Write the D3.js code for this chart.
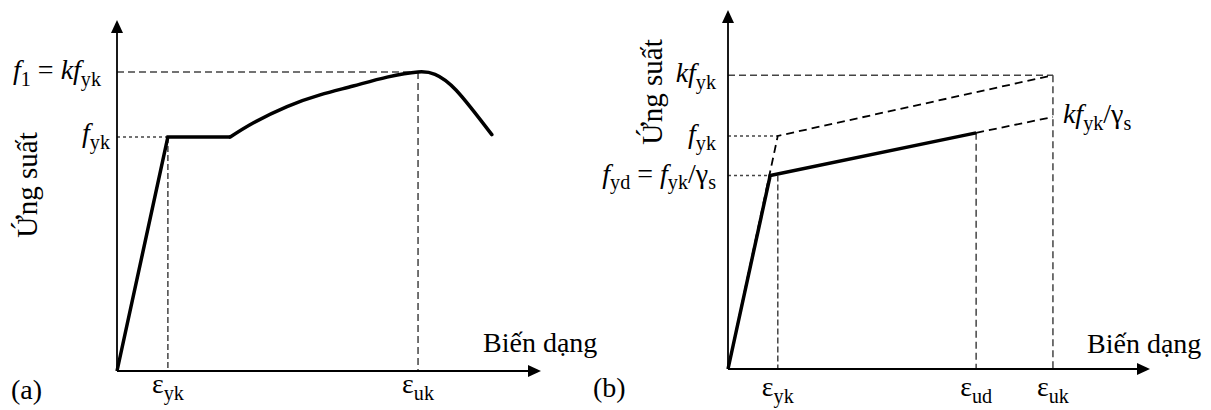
<!DOCTYPE html>
<html>
<head>
<meta charset="utf-8">
<script src="https://cdn.jsdelivr.net/npm/d3@7"></script>
<style>
  body { margin: 0; background: #fff; }
  text { font-family: "Liberation Serif", "DejaVu Serif", serif; fill: #000; }
</style>
</head>
<body>
<div id="fig"></div>
<script>
// ---- panel (a) : thép cán nóng ----
var strainA = [0, 1.2, 2.67];                      // đoạn đàn hồi + chảy dẻo
var stressA = [0, 1.0, 1.0];
var strainA2 = [2.67, 3.21, 4.01, 4.79, 5.57, 6.37, 7.1, 7.5, 8.0, 8.84]; // đoạn tái bền
var stressA2 = [1.0, 1.06, 1.13, 1.18, 1.218, 1.256, 1.278, 1.268, 1.2, 1.01];
var xTicksA = [1.2, 7.1];
var xLabelsA = [[["ε","n"],["yk","s"]], [["ε","n"],["uk","s"]]];
var yTicksA = [1.278, 1.0];
var yLabelsA = [[["f","i"],["1","s"],[" = ","n"],["kf","i"],["yk","s"]], [["f","i"],["yk","s"]]];

// ---- panel (b) : mô hình tính toán ----
var strainB = [0, 1.18, 7.7];          // đường đặc trưng (nét đứt)
var stressB = [0, 1.0, 1.26];
var strainB2 = [0, 1.0, 5.88];         // đường tính toán (nét liền)
var stressB2 = [0, 0.83, 1.013];
var strainB3 = [5.88, 7.7];            // phần kéo dài tới kfyk/γs
var stressB3 = [1.013, 1.081];
var xTicksB = [1.18, 5.88, 7.7];
var xLabelsB = [[["ε","n"],["yk","s"]], [["ε","n"],["ud","s"]], [["ε","n"],["uk","s"]]];
var yTicksB = [1.26, 1.0, 0.83];
var yLabelsB = [[["kf","i"],["yk","s"]], [["f","i"],["yk","s"]],
                [["f","i"],["yd","s"],[" = ","n"],["f","i"],["yk","s"],["/γ","n"],["s","s"]]];
var sideLabelB = [["kf","i"],["yk","s"],["/γ","n"],["s","s"]];

var svg = d3.select("#fig").append("svg").attr("width",1211).attr("height",410);

function richText(g, parts, x, y, anchor, size) {
  var t = g.append("text").attr("x",x).attr("y",y).attr("text-anchor",anchor)
    .style("font-size", size+"px");
  var shift = 0;
  parts.forEach(function(p) {
    var sub = p[1] == "s";
    var target = sub ? size*0.24 : 0;
    t.append("tspan").text(p[0]).attr("dy", target - shift)
      .style("font-style", p[1] == "i" ? "italic" : "normal")
      .style("font-size", (sub ? size*0.72 : size) + "px");
    shift = target;
  });
  return t;
}

function axes(g, x, y) {
  var x0 = x(0), y0 = y(0), xEnd = x.range()[1], yTop = y.range()[1];
  g.append("line").attr("x1",x0).attr("y1",y0).attr("x2",x0).attr("y2",yTop+10)
    .attr("stroke","#000").attr("stroke-width",1.8);
  g.append("line").attr("x1",x0).attr("y1",y0).attr("x2",xEnd-10).attr("y2",y0)
    .attr("stroke","#000").attr("stroke-width",1.8);
  g.append("path").attr("d","M"+x0+","+yTop+" L"+(x0-6)+","+(yTop+13)+" L"+(x0+6)+","+(yTop+13)+"Z");
  g.append("path").attr("d","M"+xEnd+","+y0+" L"+(xEnd-13)+","+(y0-6)+" L"+(xEnd-13)+","+(y0+6)+"Z");
}

function guide(g, x1, y1, x2, y2, dash) {
  g.append("line").attr("x1",x1).attr("y1",y1).attr("x2",x2).attr("y2",y2)
    .attr("stroke","#444").attr("stroke-width",1.5).attr("stroke-dasharray",dash);
}

function zip(a, b) { return a.map(function(v,i){ return [v, b[i]]; }); }

var FS = 28;

// ================= (a) =================
var xA = d3.scaleLinear().domain([0,10]).range([117,541]);
var yA = d3.scaleLinear().domain([0,1.5]).range([371,20]);
var gA = svg.append("g");

guide(gA, xA(0), yA(yTicksA[0]), xA(xTicksA[1]), yA(yTicksA[0]), "7,4");
guide(gA, xA(xTicksA[1]), yA(yTicksA[0]), xA(xTicksA[1]), yA(0), "7,4");
guide(gA, xA(0), yA(stressA[1]), xA(strainA[1]), yA(stressA[1]), "3,3");
guide(gA, xA(strainA[1]), yA(stressA[1]), xA(strainA[1]), yA(0), "6,3");

axes(gA, xA, yA);

var lineA = d3.line().x(function(d){return xA(d[0]);}).y(function(d){return yA(d[1]);});
gA.append("path").attr("d", lineA(zip(strainA, stressA)))
  .attr("fill","none").attr("stroke","#000").attr("stroke-width",3.5).attr("stroke-linejoin","miter");
gA.append("path").attr("d", lineA.curve(d3.curveNatural)(zip(strainA2, stressA2)))
  .attr("fill","none").attr("stroke","#000").attr("stroke-width",3.5).attr("stroke-linecap","round");

xTicksA.forEach(function(v,i){ richText(gA, xLabelsA[i], xA(v), yA(0)+22, "middle", FS); });
richText(gA, yLabelsA[0], xA(0)-16, yA(yTicksA[0])+7, "end", FS);
richText(gA, yLabelsA[1], xA(0)-7, yA(yTicksA[1])+5, "end", FS);

gA.append("text").attr("x",483).attr("y",352).style("font-size",FS+"px").text("Biến dạng");
gA.append("text").attr("transform","translate(37,185) rotate(-90)").attr("text-anchor","middle")
  .style("font-size",(FS+1)+"px").text("Ứng suất");
gA.append("text").attr("x",11).attr("y",399).style("font-size",FS+"px").text("(a)");

// ================= (b) =================
var xB = d3.scaleLinear().domain([0,10]).range([728,1150]);
var yB = d3.scaleLinear().domain([0,1.54]).range([369,10]);
var gB = svg.append("g");

guide(gB, xB(0), yB(yTicksB[0]), xB(strainB[2]), yB(yTicksB[0]), "7,4");
guide(gB, xB(strainB[2]), yB(yTicksB[0]), xB(strainB[2]), yB(0), "7,4");
guide(gB, xB(0), yB(yTicksB[1]), xB(strainB[1]), yB(yTicksB[1]), "3,3");
guide(gB, xB(0), yB(yTicksB[2]), xB(strainB2[1]), yB(yTicksB[2]), "3,3");
guide(gB, xB(strainB[1]), yB(stressB2[1]), xB(strainB[1]), yB(0), "6,3");
guide(gB, xB(strainB2[2]), yB(stressB2[2]), xB(strainB2[2]), yB(0), "7,4");

axes(gB, xB, yB);

var lineB = d3.line().x(function(d){return xB(d[0]);}).y(function(d){return yB(d[1]);});
gB.append("path").attr("d", lineB(zip(strainB, stressB)))
  .attr("fill","none").attr("stroke","#000").attr("stroke-width",1.8).attr("stroke-dasharray","8,5");
gB.append("path").attr("d", lineB(zip(strainB3, stressB3)))
  .attr("fill","none").attr("stroke","#000").attr("stroke-width",1.8).attr("stroke-dasharray","8,5");
gB.append("path").attr("d", lineB(zip(strainB2, stressB2)))
  .attr("fill","none").attr("stroke","#000").attr("stroke-width",3.5);

xTicksB.forEach(function(v,i){ richText(gB, xLabelsB[i], xB(v), yB(0)+27, "middle", FS); });
yTicksB.forEach(function(v,i){ richText(gB, yLabelsB[i], xB(0)-12, yB(v)+7, "end", FS); });
richText(gB, sideLabelB, xB(strainB3[1])+10, yB(stressB3[1])+6, "start", FS);

gB.append("text").attr("x",1087).attr("y",353).style("font-size",FS+"px").text("Biến dạng");
gB.append("text").attr("transform","translate(662,92) rotate(-90)").attr("text-anchor","middle")
  .style("font-size",(FS+1)+"px").text("Ứng suất");
gB.append("text").attr("x",593).attr("y",397).style("font-size",FS+"px").text("(b)");
</script>
</body>
</html>
